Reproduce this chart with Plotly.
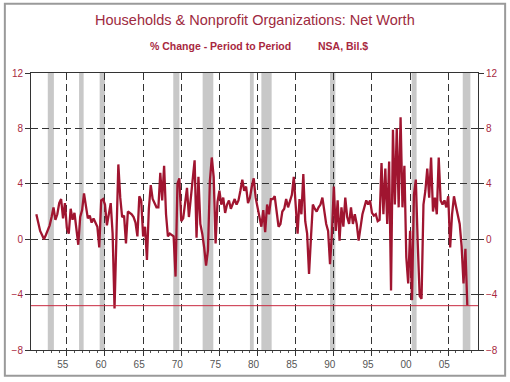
import plotly.graph_objects as go

# Quarterly % change, 1952Q1 .. 2008Q3
years = list(range(1952, 2009))
values_by_year = {
    1952: [1.8, 1.2, 0.6, 0.3], 1953: [0.0, 0.3, 0.6, 1.0], 1954: [1.6, 2.3, 1.4, 1.8],
    1955: [2.6, 2.9, 1.5, 2.6], 1956: [0.8, 0.4, 2.2, 1.4], 1957: [1.9, 0.9, -0.4, 1.6],
    1958: [2.1, 3.3, 2.4, 1.5], 1959: [1.7, 1.2, 1.5, 1.2], 1960: [0.9, -0.6, 2.8, 2.9],
    1961: [2.5, 1.0, 1.8, 2.6], 1962: [0.4, -5.0, 0.2, 5.4], 1963: [3.0, 1.6, 1.7, -0.3],
    1964: [2.0, 1.9, 1.8, 1.6], 1965: [1.2, 0.2, 3.1, 2.8], 1966: [0.2, 0.9, -1.5, 2.2],
    1967: [3.9, 2.9, 2.6, 2.3], 1968: [2.3, 4.8, 2.8, 5.3], 1969: [1.8, 0.2, 0.4, 0.3],
    1970: [0.2, -2.7, 4.0, 4.4], 1971: [1.3, 1.5, 2.7, 3.7], 1972: [1.6, 3.0, 4.4, 5.7],
    1973: [0.1, 4.5, 1.1, 0.4], 1974: [-0.6, -1.9, -0.8, 4.2], 1975: [5.9, 4.5, -0.3, 2.7],
    1976: [3.5, 2.5, 3.0, 1.9], 1977: [2.5, 2.8, 2.2, 2.5], 1978: [2.9, 2.5, 2.8, 3.5],
    1979: [4.3, 3.5, 3.8, 2.6], 1980: [3.0, 3.8, 4.4, 3.0], 1981: [2.3, 1.7, 0.9, 2.1],
    1982: [0.5, 2.5, 1.8, 2.9], 1983: [2.9, 3.1, 1.8, 0.9], 1984: [1.1, 2.0, 2.2, 2.9],
    1985: [2.3, 2.8, 3.2, 4.5], 1986: [2.5, 0.4, 2.9, 1.8], 1987: [4.7, 1.3, 0.4, -2.5],
    1988: [0.1, 2.5, 2.2, 2.0], 1989: [2.3, 2.5, 3.0, 2.1], 1990: [1.1, 0.6, -1.8, 0.4],
    1991: [3.8, 0.6, 2.8, -0.1], 1992: [2.3, 0.9, 3.0, 1.6], 1993: [1.1, 2.3, 1.1, 1.8],
    1994: [1.1, -0.1, 0.9, 1.8], 1995: [2.3, 2.8, 2.5, 2.8], 1996: [1.9, 1.7, 1.8, 1.3],
    1997: [1.4, 5.5, 1.8, 5.1], 1998: [1.1, 5.6, -3.7, 7.9], 1999: [2.5, 8.0, 2.3, 8.8],
    2000: [2.3, 5.3, -1.3, -3.2], 2001: [0.6, -4.4, 3.2, 4.3], 2002: [-0.3, -4.1, -4.3, 2.5],
    2003: [3.5, 5.1, 3.0, 5.9], 2004: [2.0, 3.0, 1.8, 5.9], 2005: [2.8, 2.5, 2.8, 2.3],
    2006: [3.1, -0.6, 1.8, 3.1], 2007: [2.4, 1.8, 1.1, -0.5], 2008: [-3.2, -0.7, -4.8],
}

# Recession periods (decimal years)
recessions = [
    (1953.5, 1954.3), (1957.6, 1958.2), (1960.3, 1961.0), (1969.95, 1970.75),
    (1973.8, 1975.2), (1980.0, 1980.5), (1981.5, 1982.85), (1990.5, 1991.2),
    (2001.2, 2001.85), (2007.9, 2008.9),
]

major_ticks = list(range(1956, 2007, 5))
major_labels = ["55", "60", "65", "70", "75", "80", "85", "90", "95", "00", "05"]
y_ticks = [-8, -4, 0, 4, 8, 12]

x = []
y = []
for yr in years:
    for q, v in enumerate(values_by_year[yr]):
        x.append(yr + q / 4)
        y.append(v)

RED = "#A01530"
TXT_RED = "#A8283F"
GRID = "#333333"
DASH = "7px,4px"

fig = go.Figure()
fig.add_trace(go.Scatter(x=x, y=y, mode="lines", line=dict(color=RED, width=2.3),
                         hoverinfo="skip", showlegend=False))
# last value reference line, drawn through the axes as a flat trace
fig.add_trace(go.Scatter(x=[1951.3, 2009.9], y=[y[-1], y[-1]], mode="lines",
                         line=dict(color="#C8283F", width=1), hoverinfo="skip",
                         showlegend=False, cliponaxis=True))
# empty trace so the right-hand y axis is drawn
fig.add_trace(go.Scatter(x=[None], y=[None], mode="lines", yaxis="y2",
                         hoverinfo="skip", showlegend=False))

for a, b in recessions:
    fig.add_vrect(x0=a, x1=b, fillcolor="#c8c8c8", line_width=0, layer="below", opacity=1)

# outer frame
fig.add_shape(type="rect", xref="paper", yref="paper", x0=-0.0585, x1=1.0607,
              y0=-0.093, y1=1.25, line=dict(color="#9a9a9a", width=2))

fig.update_layout(
    width=510, height=382,
    margin=dict(l=29, r=31, t=73, b=29),
    paper_bgcolor="white", plot_bgcolor="white",
    font=dict(family="Arial, Liberation Sans, sans-serif", size=10, color="#444"),
    hovermode=False,
    xaxis=dict(
        range=[1951.3, 2009.9], tickmode="array", tickvals=major_ticks, ticktext=major_labels,
        ticks="outside", ticklen=5, tickcolor=GRID, tickwidth=1,
        showgrid=True, gridcolor=GRID, griddash=DASH, gridwidth=1,
        showline=True, linecolor=GRID, linewidth=1, mirror=True, zeroline=False,
        ticklabelshift=-4, tickfont=dict(size=10, color="#555"),
        minor=dict(tickvals=list(range(1952, 2010)), ticks="outside", ticklen=2,
                   tickcolor="#555", showgrid=False),
    ),
    yaxis=dict(
        range=[-8, 12], tickmode="array", tickvals=y_ticks,
        ticks="outside", ticklen=5, tickcolor=GRID,
        showgrid=True, gridcolor=GRID, griddash=DASH, gridwidth=1,
        showline=True, linecolor=GRID, linewidth=1, mirror=True, zeroline=False,
        tickfont=dict(size=10, color=TXT_RED),
    ),
    yaxis2=dict(
        range=[-8, 12], tickmode="array", tickvals=y_ticks, overlaying="y", side="right",
        ticks="outside", ticklen=5, tickcolor=GRID, showgrid=False, zeroline=False,
        showline=False, tickfont=dict(size=10, color=TXT_RED),
    ),
)

fig.add_annotation(text="Households & Nonprofit Organizations: Net Worth", xref="paper", yref="paper",
                   x=(255 - 29) / 450, y=(353 - 19) / 280, xanchor="center", yanchor="middle",
                   showarrow=False, font=dict(size=14.5, color="#9E2A40"))
fig.add_annotation(text="<b>% Change - Period to Period</b>", xref="paper", yref="paper",
                   x=(220 - 29) / 450, y=(353 - 46) / 280, xanchor="center", yanchor="middle",
                   showarrow=False, font=dict(size=10.5, color=TXT_RED))
fig.add_annotation(text="<b>NSA, Bil.$</b>", xref="paper", yref="paper",
                   x=(343 - 29) / 450, y=(353 - 46) / 280, xanchor="center", yanchor="middle",
                   showarrow=False, font=dict(size=10.5, color=TXT_RED))

fig.write_html("out.html", config={"displayModeBar": False},
               post_script="document.body.style.margin='0';")
